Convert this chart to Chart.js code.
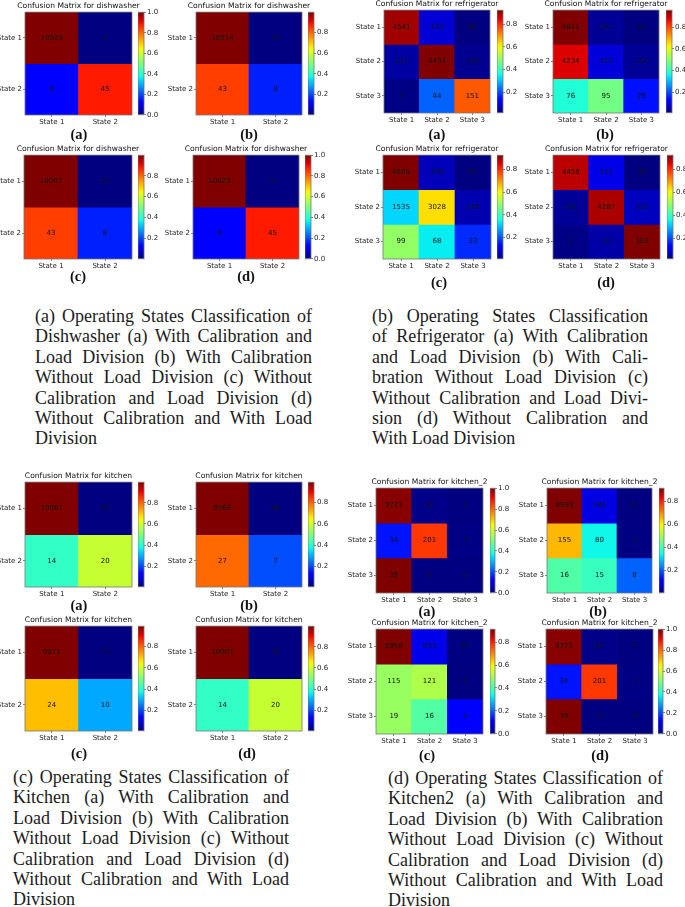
<!DOCTYPE html>
<html>
<head>
<meta charset="utf-8">
<script src="https://cdn.jsdelivr.net/npm/chart.js@4.4.1/dist/chart.umd.min.js"></script>
<style>
    html, body { margin: 0; padding: 0; background: #fff; }
    #page { position: relative; width: 685px; height: 907px; overflow: hidden; }
    #page canvas { position: absolute; }
    .sub { position: absolute; font: bold 14.5px "Liberation Serif"; color: #111; transform: translate(-50%, -50%); white-space: nowrap; }
    .cap { position: absolute; font: 18px "Liberation Serif"; line-height: 20.4px; color: #1a1a1a; }
    .cap div { text-align: justify; text-align-last: justify; }
    .cap div.last { text-align-last: left; }
</style>
</head>
<body>
<div id="page"></div>
<script>
// Etiquetas de los ejes
const states2 = ['State 1', 'State 2'];
const states3 = ['State 1', 'State 2', 'State 3'];
const colorbarTicks = [0.0, 0.2, 0.4, 0.6, 0.8, 1.0];
const panelLetters = ['(a)', '(b)', '(c)', '(d)'];

// Matrices de confusión (a) (b) (c) (d) por aparato
const dishwasherCounts = [
    [[10029, 0], [6, 45]],
    [[10014, 15], [43, 8]],
    [[10007, 22], [43, 8]],
    [[10029, 0], [6, 45]]
];
const refrigeratorCounts = [
    [[4541, 430, 98], [221, 4434, 156], [5, 44, 151]],
    [[4841, 161, 67], [4234, 423, 154], [76, 95, 29]],
    [[4696, 306, 67], [1535, 3028, 248], [99, 68, 33]],
    [[4458, 512, 99], [191, 4287, 333], [5, 10, 185]]
];
const kitchenCounts = [
    [[10001, 45], [14, 20]],
    [[9966, 80], [27, 7]],
    [[9971, 75], [24, 10]],
    [[10001, 45], [14, 20]]
];
const kitchen2Counts = [
    [[9723, 81, 1], [34, 201, 1], [39, 0, 0]],
    [[8999, 785, 21], [155, 80, 1], [16, 15, 8]],
    [[8950, 833, 22], [115, 121, 0], [19, 16, 4]],
    [[9723, 81, 1], [34, 201, 1], [39, 0, 0]]
];

const captions = [
    ['(a) Operating States Classification of', 'Dishwasher (a) With Calibration and', 'Load Division (b) With Calibration',
     'Without Load Division (c) Without', 'Calibration and Load Division (d)', 'Without Calibration and With Load', 'Division'],
    ['(b) Operating States Classification', 'of Refrigerator (a) With Calibration', 'and Load Division (b) With Cali-',
     'bration Without Load Division (c)', 'Without Calibration and Load Divi-', 'sion (d) Without Calibration and', 'With Load Division'],
    ['(c) Operating States Classification of', 'Kitchen (a) With Calibration and', 'Load Division (b) With Calibration',
     'Without Load Division (c) Without', 'Calibration and Load Division (d)', 'Without Calibration and With Load', 'Division'],
    ['(d) Operating States Classification of', 'Kitchen2 (a) With Calibration and', 'Load Division (b) With Calibration',
     'Without Load Division (c) Without', 'Calibration and Load Division (d)', 'Without Calibration and With Load', 'Division']
];

// Posiciones (caja del mapa: izq, arriba, der, abajo, x de la barra de color, ancho barra)
const groups = [
    { name: 'dishwasher', counts: dishwasherCounts, boxes: [
        [25, 12, 132, 115, 138, 6], [196, 12, 302, 115, 308, 6],
        [24, 155, 132, 259, 138, 6], [193, 155, 299, 259, 305, 6]],
      subs: [[79, 134], [249, 134], [78, 276], [246, 276]], cap: [35, 306, 277] },
    { name: 'refrigerator', counts: refrigeratorCounts, boxes: [
        [384, 10, 490, 113, 497, 6], [553, 10, 659, 113, 666, 6],
        [383, 155, 491, 259, 497, 6], [553, 155, 660, 259, 667, 6]],
      subs: [[437, 134], [605, 134], [439, 282], [606, 282]], cap: [372, 306, 276] },
    { name: 'kitchen', counts: kitchenCounts, boxes: [
        [25, 482, 132, 587, 138, 6], [196, 482, 302, 587, 308, 6],
        [25, 626, 132, 731, 138, 6], [196, 626, 302, 731, 308, 6]],
      subs: [[79, 605], [249, 605], [79, 753], [247, 753]], cap: [13, 767, 276] },
    { name: 'kitchen_2', counts: kitchen2Counts, boxes: [
        [376, 488, 483, 593, 490, 5], [547, 488, 652, 593, 659, 5],
        [376, 629, 483, 734, 490, 5], [546, 629, 653, 734, 658, 5]],
      subs: [[427, 611], [598, 611], [427, 755], [600, 755]], cap: [388, 768, 275] }
];

const page = document.getElementById('page');
const TICK_FONT = { family: 'DejaVu Sans', size: 7 };
const TITLE_SIZE = 7.6;
const TITLE_H = 11.12;   // 7.6 * 1.2 + 2
const YAXIS_W = 36;
const XAXIS_H = 12;

// Mapa de color 'jet' de matplotlib
const jetR = [[0, 0], [0.35, 0], [0.66, 1], [0.89, 1], [1, 0.5]];
const jetG = [[0, 0], [0.125, 0], [0.375, 1], [0.64, 1], [0.91, 0], [1, 0]];
const jetB = [[0, 0.5], [0.11, 1], [0.34, 1], [0.65, 0], [1, 0]];
function seg(pts, t) {
    for (let i = 1; i < pts.length; i++) {
        if (t <= pts[i][0]) {
            const [x0, y0] = pts[i - 1], [x1, y1] = pts[i];
            return y0 + (y1 - y0) * (t - x0) / (x1 - x0);
        }
    }
    return pts[pts.length - 1][1];
}
function jet(t) {
    t = Math.min(1, Math.max(0, t));
    return 'rgb(' + Math.round(seg(jetR, t) * 255) + ',' + Math.round(seg(jetG, t) * 255) + ',' + Math.round(seg(jetB, t) * 255) + ')';
}

function addCanvas(left, top, w, h) {
    const c = document.createElement('canvas');
    c.width = w;
    c.height = h;
    c.style.left = left + 'px';
    c.style.top = top + 'px';
    page.appendChild(c);
    return c;
}

const outline = {
    id: 'outline',
    afterDraw(chart) {
        const { ctx, chartArea: a } = chart;
        ctx.save();
        ctx.strokeStyle = '#777';
        ctx.lineWidth = 0.8;
        ctx.strokeRect(a.left, a.top, a.right - a.left, a.bottom - a.top);
        ctx.restore();
    }
};

function heatmap(counts, title, box) {
    const [L, T, R, B, cbX, cbW] = box;
    const labels = counts.length === 2 ? states2 : states3;
    const norm = counts.map(row => {
        const s = row.reduce((a, b) => a + b, 0);
        return row.map(v => v / s);
    });
    const flat = norm.flat();
    const vmin = Math.min(...flat), vmax = Math.max(...flat);

    // lienzo simétrico (eje vacío a la derecha) para centrar el título sobre el mapa
    const canvas = addCanvas(L - YAXIS_W, Math.round(T - TITLE_H), 2 * YAXIS_W + (R - L), Math.round(TITLE_H + (B - T) + XAXIS_H));

    const cellText = {
        id: 'cellText',
        afterDatasetsDraw(chart) {
            const { ctx, scales: { x, y } } = chart;
            ctx.save();
            ctx.fillStyle = '#111';
            ctx.font = '7px "DejaVu Sans"';
            ctx.textAlign = 'center';
            ctx.textBaseline = 'middle';
            counts.forEach((row, r) => row.forEach((v, c) => {
                ctx.fillText(String(v), x.getPixelForValue(c), y.getPixelForValue(r + 0.5));
            }));
            ctx.restore();
        }
    };

    new Chart(canvas, {
        type: 'bar',
        data: {
            labels: labels,
            datasets: norm.map((row, r) => ({
                data: labels.map(() => [r, r + 1]),
                backgroundColor: row.map(v => jet((v - vmin) / (vmax - vmin))),
                borderWidth: 0,
                barPercentage: 1,
                categoryPercentage: 1,
                grouped: false
            }))
        },
        options: {
            responsive: false,
            animation: false,
            layout: { padding: 0 },
            plugins: {
                legend: { display: false },
                tooltip: { enabled: false },
                title: {
                    display: true,
                    text: 'Confusion Matrix for ' + title,
                    color: '#111',
                    font: { family: 'DejaVu Sans', size: TITLE_SIZE, weight: 'normal' },
                    padding: { top: 0, bottom: 2 }
                }
            },
            scales: {
                x: {
                    grid: { display: true, drawOnChartArea: false, drawTicks: true, tickLength: 2, offset: false, color: '#333', lineWidth: 0.6 },
                    border: { display: false },
                    ticks: { color: '#222', font: TICK_FONT, padding: 1, maxRotation: 0, autoSkip: false },
                    afterFit: s => { s.height = XAXIS_H; }
                },
                y: {
                    type: 'linear',
                    min: 0,
                    max: labels.length,
                    reverse: true,
                    grid: { display: true, drawOnChartArea: false, drawTicks: true, tickLength: 2, color: '#333', lineWidth: 0.6 },
                    border: { display: false },
                    ticks: { color: '#222', font: TICK_FONT, padding: 1, autoSkip: false, callback: v => labels[Math.floor(v)] },
                    afterBuildTicks: s => { s.ticks = labels.map((_, i) => ({ value: i + 0.5 })); },
                    afterFit: s => { s.width = YAXIS_W; }
                },
                yPad: {
                    type: 'linear',
                    position: 'right',
                    grid: { display: false },
                    border: { display: false },
                    ticks: { display: false },
                    afterFit: s => { s.width = YAXIS_W; }
                }
            }
        },
        plugins: [cellText, outline]
    });

    colorbar(vmin, vmax, cbX, T, cbW, B - T);
}

function colorbar(vmin, vmax, left, top, w, h) {
    const AXIS_W = 20, PAD = 5;
    const canvas = addCanvas(left, top - PAD, w + AXIS_W, h + 2 * PAD);
    new Chart(canvas, {
        type: 'bar',
        data: {
            labels: [''],
            datasets: [{
                data: [[vmin, vmax]],
                backgroundColor: (context) => {
                    const { ctx, chartArea } = context.chart;
                    if (!chartArea) return null;
                    const g = ctx.createLinearGradient(0, chartArea.bottom, 0, chartArea.top);
                    for (let i = 0; i <= 40; i++) g.addColorStop(i / 40, jet(i / 40));
                    return g;
                },
                borderWidth: 0,
                barPercentage: 1,
                categoryPercentage: 1
            }]
        },
        options: {
            responsive: false,
            animation: false,
            layout: { padding: { top: PAD, bottom: PAD, left: 0, right: 0 } },
            plugins: { legend: { display: false }, tooltip: { enabled: false } },
            scales: {
                x: { display: false },
                y: {
                    position: 'right',
                    min: vmin,
                    max: vmax,
                    grid: { display: true, drawOnChartArea: false, drawTicks: true, tickLength: 2, color: '#333', lineWidth: 0.6 },
                    border: { display: false },
                    ticks: { color: '#222', font: TICK_FONT, padding: 1, autoSkip: false, callback: v => v.toFixed(1) },
                    afterBuildTicks: s => {
                        s.ticks = colorbarTicks.filter(t => t >= vmin - 1e-9 && t <= vmax + 1e-9).map(t => ({ value: t }));
                    },
                    afterFit: s => { s.width = AXIS_W; }
                }
            }
        },
        plugins: [outline]
    });
}

groups.forEach((g, gi) => {
    g.counts.forEach((m, i) => heatmap(m, g.name, g.boxes[i]));

    g.subs.forEach(([x, y], i) => {
        const d = document.createElement('div');
        d.className = 'sub';
        d.style.left = x + 'px';
        d.style.top = y + 'px';
        d.textContent = panelLetters[i];
        page.appendChild(d);
    });

    const cap = document.createElement('div');
    cap.className = 'cap';
    cap.style.left = g.cap[0] + 'px';
    cap.style.top = g.cap[1] + 'px';
    cap.style.width = g.cap[2] + 'px';
    captions[gi].forEach((line, i) => {
        const l = document.createElement('div');
        if (i === captions[gi].length - 1) l.className = 'last';
        l.textContent = line;
        cap.appendChild(l);
    });
    page.appendChild(cap);
});
</script>
</body>
</html>
